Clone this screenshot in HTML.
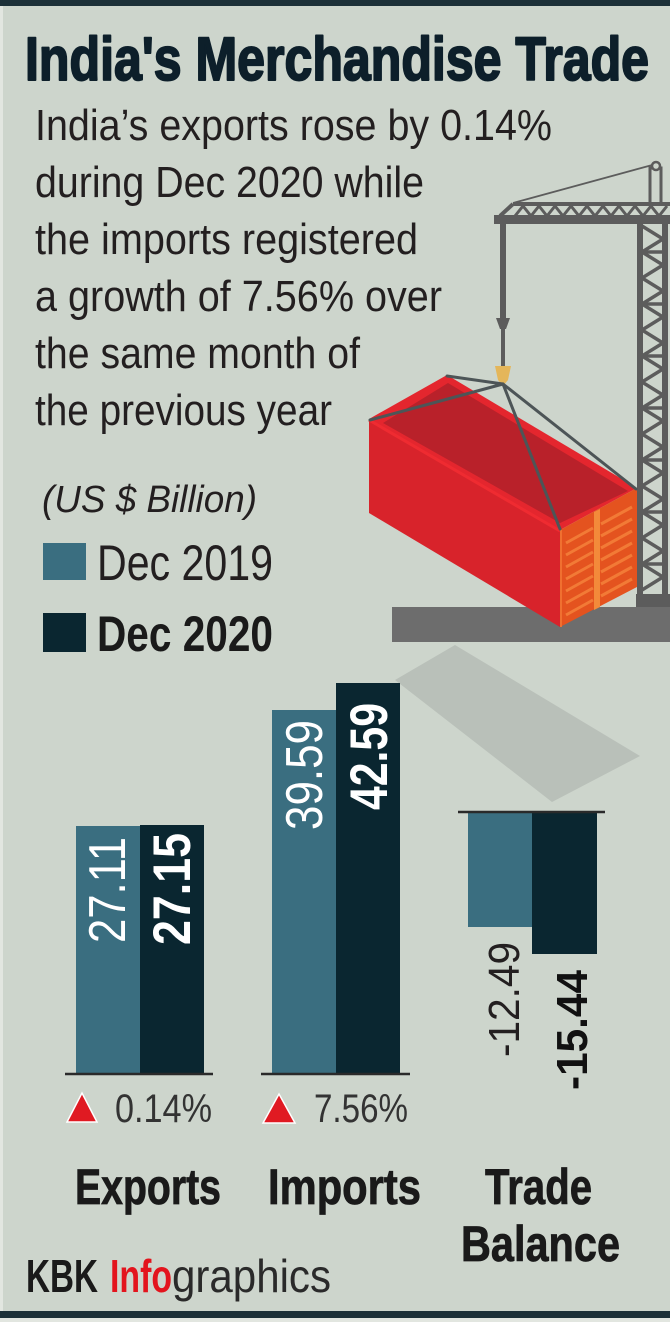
<!DOCTYPE html>
<html>
<head>
<meta charset="utf-8">
<style>
html,body{margin:0;padding:0;background:#cdd5cc;}
svg{display:block;}
text{font-family:"Liberation Sans",Arial,sans-serif;}
</style>
</head>
<body>
<svg width="670" height="1322" viewBox="0 0 670 1322" xmlns="http://www.w3.org/2000/svg">
  <!-- background -->
  <rect x="0" y="0" width="670" height="1322" fill="#cdd5cc"/>
  <rect x="0" y="6" width="3" height="1306" fill="#e2e6e0"/>
  <rect x="0" y="0" width="670" height="6" fill="#1c3038"/>
  <rect x="0" y="1311" width="670" height="7" fill="#1c3038"/>
  <rect x="0" y="1318" width="670" height="4" fill="#e2e6e0"/>

  <!-- Title -->
  <text x="25" y="80" font-size="61" font-weight="bold" fill="#0d1f2a" stroke="#0d1f2a" stroke-width="2" stroke-linejoin="round" textLength="624" lengthAdjust="spacingAndGlyphs">India's Merchandise Trade</text>

  <!-- Body text -->
  <g font-size="44" fill="#231f20">
    <text x="35" y="140" textLength="517" lengthAdjust="spacingAndGlyphs">India’s exports rose by 0.14%</text>
    <text x="35" y="197" textLength="389" lengthAdjust="spacingAndGlyphs">during Dec 2020 while</text>
    <text x="35" y="254" textLength="383" lengthAdjust="spacingAndGlyphs">the imports registered</text>
    <text x="35" y="311" textLength="407" lengthAdjust="spacingAndGlyphs">a growth of 7.56% over</text>
    <text x="35" y="368" textLength="325" lengthAdjust="spacingAndGlyphs">the same month of</text>
    <text x="35" y="425" textLength="297" lengthAdjust="spacingAndGlyphs">the previous year</text>
  </g>

  <!-- Legend -->
  <text x="42" y="512" font-size="38" font-style="italic" fill="#231f20" textLength="215" lengthAdjust="spacingAndGlyphs">(US $ Billion)</text>
  <rect x="43" y="543" width="43" height="37" fill="#3a6e80"/>
  <text x="97" y="580" font-size="50" fill="#231f20" textLength="176" lengthAdjust="spacingAndGlyphs">Dec 2019</text>
  <rect x="43" y="613" width="43" height="39" fill="#0a2630"/>
  <text x="97" y="651" font-size="50" font-weight="bold" fill="#1a1a1a" textLength="176" lengthAdjust="spacingAndGlyphs">Dec 2020</text>

  <!-- Shadow -->
  <polygon points="395,680 455,645 640,756 552,802" fill="#b9c0b9"/>

  <!-- Crane -->
  <g stroke="#5c5c5c" fill="none">
    <line x1="513" y1="203" x2="656" y2="164" stroke-width="1.8"/>
    <rect x="650" y="168" width="11" height="36" fill="#cdd5cc" stroke-width="3"/>
    <circle cx="656" cy="166" r="4" fill="#cdd5cc" stroke-width="2.5"/>
    <line x1="513" y1="204" x2="670" y2="204" stroke-width="4"/>
    <line x1="513" y1="204" x2="500" y2="216" stroke-width="4"/>
    <polyline points="515,216 523,206 531,216 539,206 547,216 555,206 563,216 571,206 579,216 587,206 595,216 603,206 611,216 619,206 627,216 635,206 643,216 651,206 659,216 667,206" stroke-width="3"/>
  </g>
  <rect x="494" y="215" width="176" height="9" fill="#5c5c5c"/>
  <!-- tower -->
  <rect x="637" y="220" width="6" height="390" fill="#5c5c5c"/>
  <rect x="662" y="220" width="6" height="390" fill="#5c5c5c"/>
  <g stroke="#5c5c5c" stroke-width="3.5" fill="none">
    <polyline points="642,226 663,239 642,252 663,265 642,278 663,291 642,304 663,317 642,330 663,343 642,356 663,369 642,382 663,395 642,408 663,421 642,434 663,447 642,460 663,473 642,486 663,499 642,512 663,525 642,538 663,551 642,564 663,577 642,590"/>
    <line x1="640" y1="252" x2="665" y2="252"/>
    <line x1="640" y1="304" x2="665" y2="304"/>
    <line x1="640" y1="356" x2="665" y2="356"/>
    <line x1="640" y1="408" x2="665" y2="408"/>
    <line x1="640" y1="460" x2="665" y2="460"/>
    <line x1="640" y1="512" x2="665" y2="512"/>
    <line x1="640" y1="564" x2="665" y2="564"/>
  </g>
  <rect x="636" y="594" width="34" height="14" fill="#5c5c5c"/>
  <!-- hook line -->
  <rect x="500" y="224" width="6" height="98" fill="#5c5c5c"/>
  <polygon points="496,318 510,318 506,329 500,329" fill="#5c5c5c"/>
  <rect x="501" y="329" width="4" height="37" fill="#5c5c5c"/>
  <polygon points="495,366 511,366 508,380 503,386 498,380" fill="#e4b65a"/>

  <!-- Platform -->
  <rect x="392" y="607" width="278" height="35" fill="#6d6d6d"/>

  <!-- Container -->
  <polygon points="369,419 447,375 637,488 560,530" fill="#e4262e"/>
  <polygon points="383,423 448,383 628,491 560,523" fill="#b9212a"/>
  <polygon points="369,419 560,530 560,627 369,513" fill="#d8232b"/>
  <line x1="369" y1="420" x2="560" y2="531" stroke="#ef2b31" stroke-width="3"/>
  <polygon points="560,530 637,488 637,587 560,627" fill="#e4531f"/>
  <g stroke="#f27a36" stroke-width="3">
    <line x1="566" y1="543" x2="593" y2="528"/>
    <line x1="566" y1="555" x2="593" y2="540"/>
    <line x1="566" y1="567" x2="593" y2="552"/>
    <line x1="566" y1="579" x2="593" y2="564"/>
    <line x1="566" y1="591" x2="593" y2="576"/>
    <line x1="566" y1="603" x2="593" y2="588"/>
    <line x1="566" y1="615" x2="593" y2="600"/>
    <line x1="601" y1="524" x2="632" y2="507"/>
    <line x1="601" y1="536" x2="632" y2="519"/>
    <line x1="601" y1="548" x2="632" y2="531"/>
    <line x1="601" y1="560" x2="632" y2="543"/>
    <line x1="601" y1="572" x2="632" y2="555"/>
    <line x1="601" y1="584" x2="632" y2="567"/>
    <line x1="601" y1="596" x2="632" y2="579"/>
  </g>
  <polygon points="594,512 600,509 600,607 594,610" fill="#f38a3a"/>
  <line x1="561" y1="530" x2="561" y2="627" stroke="#f07030" stroke-width="2"/>
  <!-- cables -->
  <g stroke="#4d5557" stroke-width="3" stroke-linecap="round">
    <line x1="503" y1="384" x2="370" y2="420"/>
    <line x1="503" y1="384" x2="447" y2="376"/>
    <line x1="503" y1="384" x2="560" y2="529"/>
    <line x1="503" y1="384" x2="636" y2="489"/>
  </g>

  <!-- Exports bars -->
  <rect x="76" y="826" width="64" height="248" fill="#3a6e80"/>
  <rect x="140" y="825" width="64" height="249" fill="#0a2630"/>
  <line x1="65" y1="1074" x2="213" y2="1074" stroke="#2a2a2a" stroke-width="2.5"/>
  <text transform="translate(125,943) rotate(-90)" font-size="52" fill="#ffffff" textLength="106" lengthAdjust="spacingAndGlyphs">27.11</text>
  <text transform="translate(190,945) rotate(-90)" font-size="53" font-weight="bold" fill="#ffffff" textLength="112" lengthAdjust="spacingAndGlyphs">27.15</text>

  <!-- Imports bars -->
  <rect x="272" y="710" width="64" height="364" fill="#3a6e80"/>
  <rect x="336" y="683" width="64" height="391" fill="#0a2630"/>
  <line x1="261" y1="1074" x2="410" y2="1074" stroke="#2a2a2a" stroke-width="2.5"/>
  <text transform="translate(322,830) rotate(-90)" font-size="52" fill="#ffffff" textLength="110" lengthAdjust="spacingAndGlyphs">39.59</text>
  <text transform="translate(387,810) rotate(-90)" font-size="53" font-weight="bold" fill="#ffffff" textLength="107" lengthAdjust="spacingAndGlyphs">42.59</text>

  <!-- Trade balance bars -->
  <rect x="468" y="812" width="64" height="115" fill="#3a6e80"/>
  <rect x="532" y="812" width="65" height="142" fill="#0a2630"/>
  <line x1="458" y1="812" x2="605" y2="812" stroke="#2a2a2a" stroke-width="2.5"/>
  <text transform="translate(519,1057) rotate(-90)" font-size="44" fill="#231f20" textLength="115" lengthAdjust="spacingAndGlyphs">-12.49</text>
  <text transform="translate(587,1090) rotate(-90)" font-size="44" font-weight="bold" fill="#111111" textLength="120" lengthAdjust="spacingAndGlyphs">-15.44</text>

  <!-- Growth indicators -->
  <polygon points="67,1122 97,1122 82,1093" fill="#e01a22" stroke="#ffffff" stroke-width="1.5"/>
  <text x="115" y="1122" font-size="40" fill="#333333" textLength="97" lengthAdjust="spacingAndGlyphs">0.14%</text>
  <polygon points="263,1123 295,1123 279,1094" fill="#e01a22" stroke="#ffffff" stroke-width="1.5"/>
  <text x="314" y="1122" font-size="40" fill="#333333" textLength="94" lengthAdjust="spacingAndGlyphs">7.56%</text>

  <!-- Category labels -->
  <g font-size="50" font-weight="bold" fill="#1a1a1a" stroke="#1a1a1a" stroke-width="0.8">
    <text x="75" y="1204" textLength="146" lengthAdjust="spacingAndGlyphs">Exports</text>
    <text x="268" y="1204" textLength="153" lengthAdjust="spacingAndGlyphs">Imports</text>
    <text x="485" y="1204" textLength="107" lengthAdjust="spacingAndGlyphs">Trade</text>
    <text x="461" y="1261" textLength="159" lengthAdjust="spacingAndGlyphs">Balance</text>
  </g>

  <!-- Credit -->
  <text x="26" y="1292" font-size="46" font-weight="bold" fill="#1a1a1a" textLength="72" lengthAdjust="spacingAndGlyphs">KBK</text>
  <text x="110" y="1292" font-size="46" font-weight="bold" fill="#e3141d" textLength="62" lengthAdjust="spacingAndGlyphs">Info</text>
  <text x="172" y="1292" font-size="46" fill="#2a2a2a" textLength="159" lengthAdjust="spacingAndGlyphs">graphics</text>
</svg>
</body>
</html>
